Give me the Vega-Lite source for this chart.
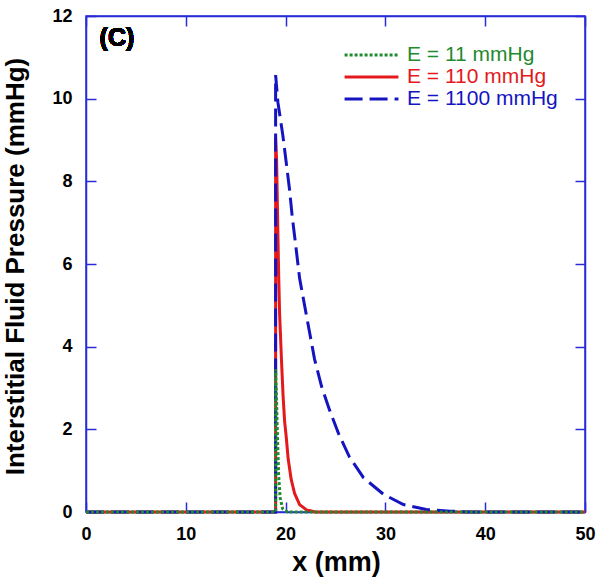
{
  "$schema": "https://vega.github.io/schema/vega-lite/v6.json",
  "width": 499,
  "height": 496,
  "autosize": "none",
  "padding": {"left": 86, "top": 16, "right": 15, "bottom": 68},
  "background": "white",
  "config": {
    "view": {"stroke": "#2a2ad8", "strokeWidth": 1.5},
    "font": "Liberation Sans"
  },
  "data": {
    "values": [
      {"s": "E = 110 mmHg", "i": 1, "x": 0, "y": 0},
      {"s": "E = 110 mmHg", "i": 2, "x": 19.0, "y": 0},
      {"s": "E = 110 mmHg", "i": 3, "x": 19.0, "y": 9.05},
      {"s": "E = 110 mmHg", "i": 4, "x": 19.1, "y": 8.5},
      {"s": "E = 110 mmHg", "i": 5, "x": 19.2, "y": 7.1},
      {"s": "E = 110 mmHg", "i": 6, "x": 19.3, "y": 5.8},
      {"s": "E = 110 mmHg", "i": 7, "x": 19.4, "y": 4.8},
      {"s": "E = 110 mmHg", "i": 8, "x": 19.5, "y": 4.2},
      {"s": "E = 110 mmHg", "i": 9, "x": 19.6, "y": 3.6},
      {"s": "E = 110 mmHg", "i": 10, "x": 19.75, "y": 2.8},
      {"s": "E = 110 mmHg", "i": 11, "x": 19.9, "y": 2.2},
      {"s": "E = 110 mmHg", "i": 12, "x": 20.07, "y": 1.8},
      {"s": "E = 110 mmHg", "i": 13, "x": 20.25, "y": 1.3},
      {"s": "E = 110 mmHg", "i": 14, "x": 20.55, "y": 0.8},
      {"s": "E = 110 mmHg", "i": 15, "x": 20.9, "y": 0.45},
      {"s": "E = 110 mmHg", "i": 16, "x": 21.4, "y": 0.18},
      {"s": "E = 110 mmHg", "i": 17, "x": 22.1, "y": 0.05},
      {"s": "E = 110 mmHg", "i": 18, "x": 23.0, "y": 0},
      {"s": "E = 110 mmHg", "i": 19, "x": 50, "y": 0},
      {"s": "E = 1100 mmHg", "i": 1, "x": 0, "y": 0},
      {"s": "E = 1100 mmHg", "i": 2, "x": 19.0, "y": 0},
      {"s": "E = 1100 mmHg", "i": 3, "x": 19.0, "y": 10.57},
      {"s": "E = 1100 mmHg", "i": 4, "x": 19.23, "y": 9.91},
      {"s": "E = 1100 mmHg", "i": 5, "x": 19.73, "y": 9.1},
      {"s": "E = 1100 mmHg", "i": 6, "x": 20.07, "y": 8.44},
      {"s": "E = 1100 mmHg", "i": 7, "x": 20.4, "y": 7.79},
      {"s": "E = 1100 mmHg", "i": 8, "x": 20.67, "y": 7.13},
      {"s": "E = 1100 mmHg", "i": 9, "x": 21.0, "y": 6.48},
      {"s": "E = 1100 mmHg", "i": 10, "x": 21.4, "y": 5.66},
      {"s": "E = 1100 mmHg", "i": 11, "x": 21.9, "y": 5.0},
      {"s": "E = 1100 mmHg", "i": 12, "x": 22.4, "y": 4.35},
      {"s": "E = 1100 mmHg", "i": 13, "x": 22.9, "y": 3.7},
      {"s": "E = 1100 mmHg", "i": 14, "x": 23.6, "y": 3.04},
      {"s": "E = 1100 mmHg", "i": 15, "x": 24.4, "y": 2.47},
      {"s": "E = 1100 mmHg", "i": 16, "x": 25.3, "y": 1.9},
      {"s": "E = 1100 mmHg", "i": 17, "x": 26.4, "y": 1.33},
      {"s": "E = 1100 mmHg", "i": 18, "x": 27.8, "y": 0.83},
      {"s": "E = 1100 mmHg", "i": 19, "x": 29.8, "y": 0.43},
      {"s": "E = 1100 mmHg", "i": 20, "x": 31.8, "y": 0.18},
      {"s": "E = 1100 mmHg", "i": 21, "x": 34.1, "y": 0.06},
      {"s": "E = 1100 mmHg", "i": 22, "x": 36.5, "y": 0.02},
      {"s": "E = 1100 mmHg", "i": 23, "x": 38.5, "y": 0},
      {"s": "E = 1100 mmHg", "i": 24, "x": 50, "y": 0},
      {"s": "E = 11 mmHg", "i": 1, "x": 0, "y": 0},
      {"s": "E = 11 mmHg", "i": 2, "x": 19.0, "y": 0},
      {"s": "E = 11 mmHg", "i": 3, "x": 19.0, "y": 3.45},
      {"s": "E = 11 mmHg", "i": 4, "x": 19.1, "y": 2.6},
      {"s": "E = 11 mmHg", "i": 5, "x": 19.2, "y": 1.7},
      {"s": "E = 11 mmHg", "i": 6, "x": 19.3, "y": 0.9},
      {"s": "E = 11 mmHg", "i": 7, "x": 19.45, "y": 0.35},
      {"s": "E = 11 mmHg", "i": 8, "x": 19.7, "y": 0.08},
      {"s": "E = 11 mmHg", "i": 9, "x": 20.2, "y": 0},
      {"s": "E = 11 mmHg", "i": 10, "x": 50, "y": 0}
    ]
  },
  "layer": [
    {
      "mark": {"type": "line", "strokeWidth": 3, "clip": false},
      "encoding": {
        "x": {
          "field": "x", "type": "quantitative",
          "scale": {"domain": [0, 50], "nice": false, "zero": false},
          "axis": {
            "orient": "bottom",
            "values": [0, 10, 20, 30, 40, 50],
            "title": "x (mm)",
            "titleFont": "Liberation Sans", "titleFontSize": 27, "titleFontWeight": "bold", "titleColor": "black",
            "titleX": 250, "titleY": 58, "titleBaseline": "alphabetic",
            "labelFont": "Liberation Sans", "labelFontSize": 18, "labelFontWeight": "bold", "labelColor": "black",
            "labelPadding": 23, "labelFlush": false, "labelOverlap": false,
            "tickSize": -10, "tickColor": "#2a2ad8", "tickWidth": 1.5,
            "domainColor": "#2a2ad8", "domainWidth": 1.5, "grid": false
          }
        },
        "y": {
          "field": "y", "type": "quantitative",
          "scale": {"domain": [0, 12], "nice": false, "zero": false},
          "axis": {
            "orient": "left",
            "values": [0, 2, 4, 6, 8, 10, 12],
            "title": "Interstitial Fluid Pressure (mmHg)",
            "titleFont": "Liberation Sans", "titleFontSize": 26, "titleFontWeight": "bold", "titleColor": "black",
            "titleX": -58, "titleY": 250, "titleAngle": -90, "titleBaseline": "bottom", "titleAlign": "center",
            "labelFont": "Liberation Sans", "labelFontSize": 18, "labelFontWeight": "bold", "labelColor": "black",
            "labelPadding": 24, "labelFlush": false, "labelOverlap": false,
            "tickSize": -10, "tickColor": "#2a2ad8", "tickWidth": 1.5,
            "domainColor": "#2a2ad8", "domainWidth": 1.5, "grid": false
          }
        },
        "order": {"field": "i", "type": "quantitative"},
        "color": {
          "field": "s", "type": "nominal",
          "scale": {
            "domain": ["E = 11 mmHg", "E = 110 mmHg", "E = 1100 mmHg"],
            "range": ["#1f8a2e", "#e3191c", "#1414c0"]
          },
          "legend": {
            "orient": "none", "legendX": 257, "legendY": 28,
            "title": null, "padding": 0,
            "symbolType": "stroke", "symbolSize": 2900, "symbolStrokeWidth": 3,
            "clipHeight": 22, "rowPadding": 0, "labelOffset": 7,
            "labelFont": "Liberation Sans", "labelFontSize": 21,
            "encode": {"labels": {"update": {"fill": {"scale": "color", "field": "value"}}}}
          }
        },
        "strokeDash": {
          "field": "s", "type": "nominal",
          "scale": {
            "domain": ["E = 11 mmHg", "E = 110 mmHg", "E = 1100 mmHg"],
            "range": [[3, 2], [1, 0], [18, 7]]
          },
          "legend": null
        }
      }
    },
    {
      "mark": {"type": "text", "text": "(C)", "font": "Liberation Sans", "fontSize": 25, "fontWeight": "bold", "fill": "black", "align": "center", "baseline": "middle"},
      "encoding": {
        "x": {
          "datum": 3.1, "type": "quantitative",
          "axis": {
            "orient": "top", "values": [0, 10, 20, 30, 40, 50], "labels": false, "title": null,
            "tickSize": -10, "tickColor": "#2a2ad8", "tickWidth": 1.5,
            "domainColor": "#2a2ad8", "domainWidth": 1.5, "grid": false
          }
        },
        "y": {
          "datum": 11.47, "type": "quantitative",
          "axis": {
            "orient": "right", "values": [0, 2, 4, 6, 8, 10, 12], "labels": false, "title": null,
            "tickSize": -10, "tickColor": "#2a2ad8", "tickWidth": 1.5,
            "domainColor": "#2a2ad8", "domainWidth": 1.5, "grid": false
          }
        }
      }
    }
  ],
  "resolve": {"axis": {"x": "independent", "y": "independent"}}
}
